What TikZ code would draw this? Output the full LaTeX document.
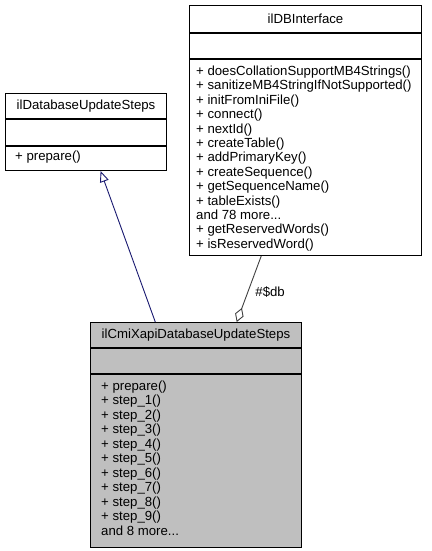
\documentclass[tikz,border=0pt]{standalone}
\usepackage{fontspec}
\setmainfont{Liberation Sans}
\usetikzlibrary{arrows.meta,calc,positioning}
\definecolor{edgeblue}{HTML}{191970}
\definecolor{edgegrey}{HTML}{404040}
\definecolor{focusfill}{HTML}{BFBFBF}
\tikzset{line width=.8pt,
  every node/.style={font=\fontsize{13.2}{14.4}\selectfont,inner sep=0pt},
  classpart/.style={draw=black,fill=white,line width=1pt,anchor=north},
  focuspart/.style={classpart,fill=focusfill},
  member/.style={anchor=base west},
  inherit/.style={draw=edgeblue,line width=.9pt,-{Triangle[open,length=11pt,width=9pt]}},
  aggregate/.style={draw=edgegrey,line width=.9pt,{Diamond[open,length=15pt,width=9pt]}-}}

\begin{document}
\begin{tikzpicture}[x=1pt,y=-1pt]
\useasboundingbox(0,0)rectangle(431,551);
% ilDatabaseUpdateSteps
\node[classpart,minimum width=161pt,minimum height=25pt,anchor=north west](updsteps)at(5,93){ilDatabaseUpdateSteps};
\node[classpart,minimum width=161pt,minimum height=26pt](updstepsattr)at(updsteps.south){};
\node[classpart,minimum width=161pt,minimum height=24pt](updstepsops)at(updstepsattr.south){};
\node[member](updstepsop0)at(15,160){+ prepare()};
% ilDBInterface
\node[classpart,minimum width=232pt,minimum height=27pt,anchor=north west](dbi)at(189,5){ilDBInterface};
\node[classpart,minimum width=232pt,minimum height=25pt](dbiattr)at(dbi.south){};
\node[classpart,minimum width=232pt,minimum height=196pt](dbiops)at(dbiattr.south){};
\foreach \m [count=\i from 0] in {+ doesCollationSupportMB4Strings(),+ sanitizeMB4StringIfNotSupported(),
  + initFromIniFile(),+ connect(),+ nextId(),+ createTable(),+ addPrimaryKey(),+ createSequence(),
  + getSequenceName(),+ tableExists()}
  \node[member](dbiop\i)at(196,75.5+14.4*\i){\m};
\node[member](dbimore)at(196,75.5+14.4*10){and 78 more...};
\foreach \m [count=\i from 11] in {+ getReservedWords(),+ isReservedWord()}
  \node[member](dbiop\i)at(196,75.5+14.4*\i){\m};
% ilCmiXapiDatabaseUpdateSteps
\node[focuspart,minimum width=211pt,minimum height=25pt,anchor=north west](cmi)at(90,322){ilCmiXapiDatabaseUpdateSteps};
\node[focuspart,minimum width=211pt,minimum height=25pt](cmiattr)at(cmi.south){};
\node[focuspart,minimum width=211pt,minimum height=173pt](cmiops)at(cmiattr.south){};
\node[member](cmiop0)at(101,390){+ prepare()};
\foreach \i in {1,...,9}\node[member](cmiop\i)at(101,390+14.5*\i){+ step\_\i()};
\node[member](cmimore)at(101,535){and 8 more...};
% relations
\draw[inherit]($(cmi.north west)!.308!(cmi.north east)$)--($(updstepsops.south west)!.59!(updstepsops.south east)$);
\draw[aggregate]($(cmi.north west)!.692!(cmi.north east)$)--($(dbiops.south west)!.31!(dbiops.south east)$)
  node[pos=.46,right=7pt](dblabel){\#\$db};
\end{tikzpicture}
\end{document}
